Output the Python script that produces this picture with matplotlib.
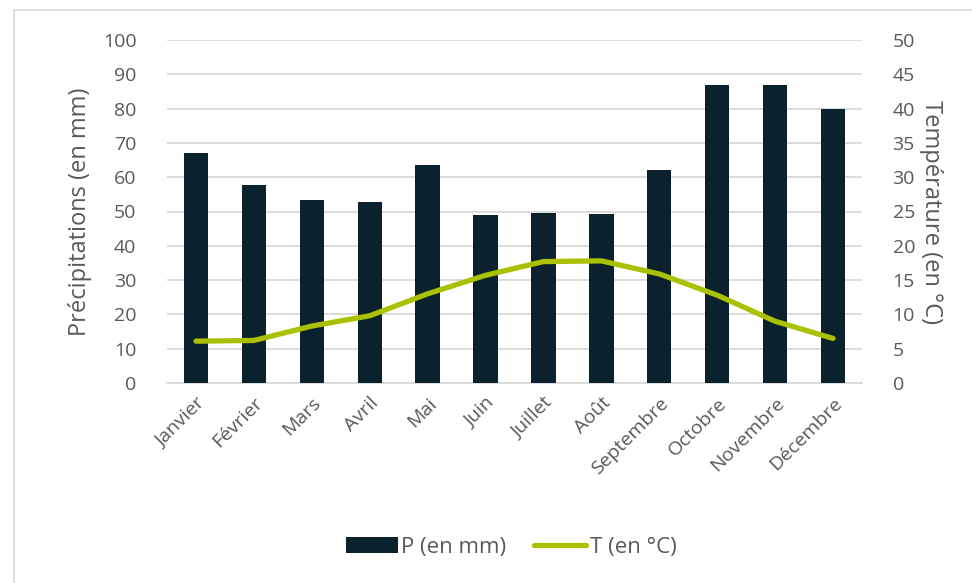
import matplotlib.pyplot as plt
from matplotlib.lines import Line2D
from matplotlib.patches import Patch, Rectangle

months = ["Janvier", "Février", "Mars", "Avril", "Mai", "Juin", "Juillet",
          "Août", "Septembre", "Octobre", "Novembre", "Décembre"]
precip_mm = [67.0, 57.6, 53.4, 52.9, 63.5, 49.0, 49.6, 49.3, 62.0, 86.8, 86.8, 80.0]
temp_c = [6.1, 6.2, 8.3, 9.8, 13.0, 15.7, 17.7, 17.8, 15.9, 12.8, 9.0, 6.5]

BAR_COLOR = "#0b222e"
LINE_COLOR = "#a9c100"
TEXT_COLOR = "#595959"
GRID_COLOR = "#d9d9d9"

plt.rcParams["font.family"] = ["Open Sans", "DejaVu Sans"]

fig = plt.figure(figsize=(9.72, 5.83), dpi=100)
# light frame around the chart area
fig.patches.append(Rectangle((14 / 972, -0.01), 1.0, 1 - 10 / 583 + 0.01,
                             transform=fig.transFigure, fill=False,
                             edgecolor="#d9d9d9", linewidth=1.2))

ax = fig.add_axes([167 / 972, 1 - 383 / 583, (862 - 167) / 972, (383 - 40) / 583])
x = list(range(len(months)))
ax.bar(x, precip_mm, width=0.42, color=BAR_COLOR, zorder=3)
ax.set_ylim(0, 100)
ax.set_yticks(range(0, 101, 10))
ax.set_xlim(-0.5, len(months) - 0.5)
ax.set_xticks(x)
ax.set_xticklabels(months, rotation=45, ha="right", rotation_mode="anchor")
ax.grid(axis="y", color=GRID_COLOR, linewidth=1.3, zorder=0)
for s in ["top", "right", "left"]:
    ax.spines[s].set_visible(False)
ax.spines["bottom"].set_color(GRID_COLOR)
ax.spines["bottom"].set_linewidth(1.3)
ax.tick_params(axis="both", length=0, colors=TEXT_COLOR, labelsize=14)
ax.tick_params(axis="y", pad=22)
ax.tick_params(axis="x", pad=8)
ax.set_ylabel("Précipitations (en mm)", color=TEXT_COLOR, fontsize=17, labelpad=8)

ax2 = ax.twinx()
ax2.plot(x, temp_c, color=LINE_COLOR, linewidth=3.8, solid_capstyle="round", zorder=4)
ax2.set_ylim(0, 50)
ax2.set_yticks(range(0, 51, 5))
for s in ["top", "right", "left", "bottom"]:
    ax2.spines[s].set_visible(False)
ax2.tick_params(axis="y", length=0, colors=TEXT_COLOR, labelsize=14, pad=22)
ax2.set_ylabel("Température (en °C)", color=TEXT_COLOR, fontsize=17,
               rotation=-90, labelpad=20)

handles = [Patch(facecolor=BAR_COLOR, label="P (en mm)"),
           Line2D([0], [0], color=LINE_COLOR, linewidth=3.8,
                  solid_capstyle="round", label="T (en °C)")]
leg = fig.legend(handles=handles, loc="center", bbox_to_anchor=(511 / 972, 1 - 547 / 583),
                 ncol=2, frameon=False, fontsize=16, handlelength=2.35,
                 handletextpad=0.15, columnspacing=1.25)
for t in leg.get_texts():
    t.set_color(TEXT_COLOR)

fig.savefig("out.png", dpi=100)
